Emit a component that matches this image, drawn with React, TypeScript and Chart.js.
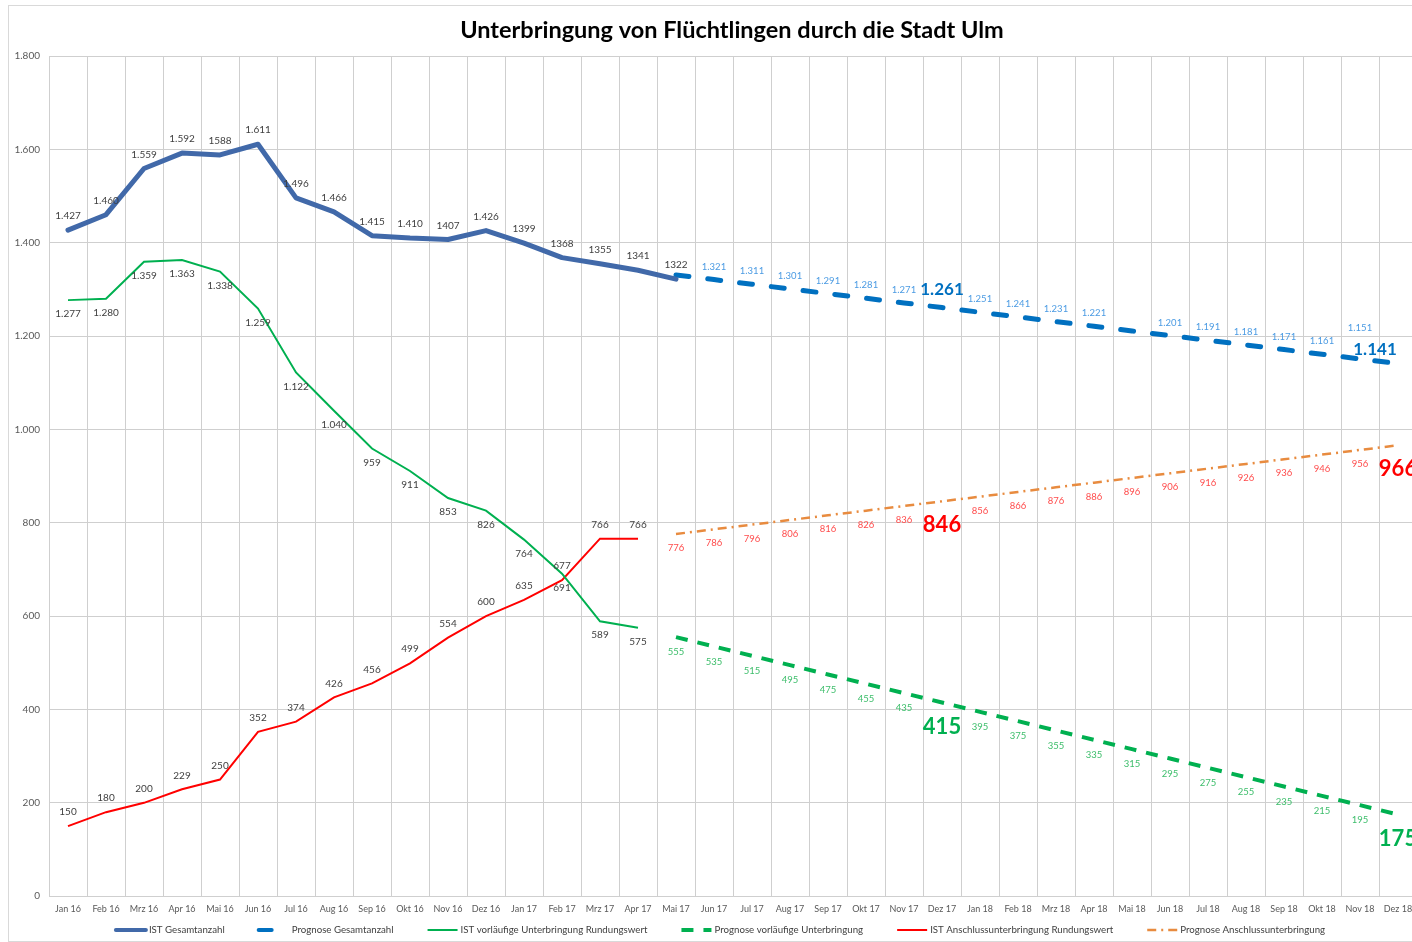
import React, { useEffect, useRef } from "react";
import { Chart, registerables } from "chart.js";

Chart.register(...registerables);

const FONT = "Lato, 'Noto Sans', sans-serif";

const TITLE = "Unterbringung von Flüchtlingen durch die Stadt Ulm";

const categories = [
  "Jan 16", "Feb 16", "Mrz 16", "Apr 16", "Mai 16", "Jun 16", "Jul 16", "Aug 16", "Sep 16", "Okt 16", "Nov 16", "Dez 16",
  "Jan 17", "Feb 17", "Mrz 17", "Apr 17", "Mai 17", "Jun 17", "Jul 17", "Aug 17", "Sep 17", "Okt 17", "Nov 17", "Dez 17",
  "Jan 18", "Feb 18", "Mrz 18", "Apr 18", "Mai 18", "Jun 18", "Jul 18", "Aug 18", "Sep 18", "Okt 18", "Nov 18", "Dez 18",
];

const N16 = (n: number) => Array(n).fill(null);

const istGesamt = [
  1427, 1460, 1559, 1592, 1588, 1611, 1496, 1466, 1415, 1410, 1407, 1426,
  1399, 1368, 1355, 1341, 1322, ...N16(19),
];
const prognoseGesamt = [
  ...N16(16),
  1331, 1321, 1311, 1301, 1291, 1281, 1271, 1261,
  1251, 1241, 1231, 1221, 1211, 1201, 1191, 1181, 1171, 1161, 1151, 1141,
];
const istVorlaeufig = [
  1277, 1280, 1359, 1363, 1338, 1259, 1122, 1040, 959, 911, 853, 826,
  764, 691, 589, 575, ...N16(20),
];
const prognoseVorlaeufig = [
  ...N16(16),
  555, 535, 515, 495, 475, 455, 435, 415,
  395, 375, 355, 335, 315, 295, 275, 255, 235, 215, 195, 175,
];
const istAnschluss = [
  150, 180, 200, 229, 250, 352, 374, 426, 456, 499, 554, 600,
  635, 677, 766, 766, ...N16(20),
];
const prognoseAnschluss = [
  ...N16(16),
  776, 786, 796, 806, 816, 826, 836, 846,
  856, 866, 876, 886, 896, 906, 916, 926, 936, 946, 956, 966,
];

const yTicks = [0, 200, 400, 600, 800, 1000, 1200, 1400, 1600, 1800];

const fmtDE = (v: number) =>
  v >= 1000 ? `${Math.floor(v / 1000)}.${String(v % 1000).padStart(3, "0")}` : String(v);

type Big = { index: number; color: string; size: number; dx: number; dy: number };
type Shift = { index: number; dy: number };
type LabelCfg = { color: string; size: number; dy: number; plain?: number[]; hide?: number[]; big?: Big[]; shift?: Shift[] };

const labelCfgs: LabelCfg[] = [
  { color: "#404040", size: 10, dy: -14, plain: [4, 10, 12, 13, 14, 15, 16] },
  {
    color: "#4b9be3", size: 9.5, dy: -13, hide: [16, 28],
    shift: [{ index: 34, dy: -31 }],
    big: [
      { index: 23, color: "#0070C0", size: 17, dx: 0, dy: -18 },
      { index: 35, color: "#0070C0", size: 17, dx: -23, dy: -14 },
    ],
  },
  { color: "#404040", size: 10, dy: 14 },
  {
    color: "#3dbe6b", size: 9.5, dy: 15,
    big: [
      { index: 23, color: "#00B050", size: 22, dx: 0, dy: 24 },
      { index: 35, color: "#00B050", size: 22, dx: 0, dy: 24 },
    ],
  },
  { color: "#404040", size: 10, dy: -14 },
  {
    color: "#ff4b4b", size: 9.5, dy: 14,
    big: [
      { index: 23, color: "#FF0000", size: 22, dx: 0, dy: 24 },
      { index: 35, color: "#FF0000", size: 22, dx: 0, dy: 24 },
    ],
  },
];

const valueLabelPlugin = {
  id: "valueLabels",
  afterDatasetsDraw(chart: any) {
    const ctx = chart.ctx;
    chart.data.datasets.forEach((ds: any, di: number) => {
      const cfg = labelCfgs[di];
      if (!cfg) return;
      const meta = chart.getDatasetMeta(di);
      meta.data.forEach((pt: any, i: number) => {
        const v = ds.data[i];
        if (v == null || (cfg.hide && cfg.hide.includes(i))) return;
        const big = cfg.big ? cfg.big.find((b) => b.index === i) : undefined;
        const sh = cfg.shift ? cfg.shift.find((s) => s.index === i) : undefined;
        const text = cfg.plain && cfg.plain.includes(i) ? String(v) : fmtDE(v);
        ctx.save();
        ctx.font = big ? `bold ${big.size}px ${FONT}` : `${cfg.size}px ${FONT}`;
        ctx.fillStyle = big ? big.color : cfg.color;
        ctx.textAlign = "center";
        ctx.textBaseline = "middle";
        const dy = big ? big.dy : sh ? sh.dy : cfg.dy;
        ctx.fillText(text, pt.x + (big ? big.dx : 0), pt.y + dy);
        ctx.restore();
      });
    });
  },
};

const legendPlugin = {
  id: "customLegend",
  afterDraw(chart: any) {
    const ctx = chart.ctx;
    const datasets = chart.data.datasets;
    const sample = 30;
    const gapText = 3;
    const gapItem = 34;
    ctx.save();
    ctx.font = `9.7px ${FONT}`;
    const widths = datasets.map((d: any) => sample + gapText + ctx.measureText(d.label).width);
    const total = widths.reduce((a: number, b: number) => a + b, 0) + gapItem * (datasets.length - 1);
    let x = chart.width / 2 - total / 2;
    const y = chart.height - 12;
    datasets.forEach((d: any, i: number) => {
      ctx.save();
      ctx.strokeStyle = d.borderColor;
      ctx.lineWidth = Math.min(d.borderWidth, 4);
      ctx.lineCap = d.borderCapStyle || "butt";
      ctx.setLineDash(d.borderDash || []);
      ctx.beginPath();
      ctx.moveTo(x, y);
      ctx.lineTo(x + sample, y);
      ctx.stroke();
      ctx.restore();
      ctx.fillStyle = "#404040";
      ctx.textAlign = "left";
      ctx.textBaseline = "middle";
      ctx.fillText(d.label, x + sample + gapText, y);
      x += widths[i] + gapItem;
    });
    ctx.restore();
  },
};

const framePlugin = {
  id: "frame",
  beforeDraw(chart: any) {
    const ctx = chart.ctx;
    ctx.save();
    ctx.fillStyle = "#ffffff";
    ctx.fillRect(0, 0, chart.width, chart.height);
    ctx.strokeStyle = "#d9d9d9";
    ctx.lineWidth = 1;
    ctx.strokeRect(0.5, 0.5, chart.width + 10, chart.height - 1);
    ctx.restore();
  },
  afterDraw(chart: any) {
    const ctx = chart.ctx;
    ctx.save();
    ctx.font = `bold 23.5px ${FONT}`;
    ctx.fillStyle = "#000000";
    ctx.textAlign = "center";
    ctx.textBaseline = "middle";
    ctx.fillText(TITLE, 724, 25);
    ctx.restore();
  },
};

export default function App() {
  const ref = useRef<HTMLCanvasElement | null>(null);

  useEffect(() => {
    if (!ref.current) return;
    const chart = new Chart(ref.current, {
      type: "line",
      data: {
        labels: categories,
        datasets: [
          {
            label: "IST Gesamtanzahl",
            data: istGesamt,
            borderColor: "#4169A9",
            borderWidth: 5,
            borderJoinStyle: "round",
            borderCapStyle: "round",
          },
          {
            label: "Prognose Gesamtanzahl",
            data: prognoseGesamt,
            borderColor: "#0070C0",
            borderWidth: 5,
            borderDash: [13, 19],
            borderCapStyle: "round",
          },
          {
            label: "IST vorläufige Unterbringung Rundungswert",
            data: istVorlaeufig,
            borderColor: "#00B050",
            borderWidth: 2,
          },
          {
            label: "Prognose vorläufige Unterbringung",
            data: prognoseVorlaeufig,
            borderColor: "#00B050",
            borderWidth: 4,
            borderDash: [12, 10],
          },
          {
            label: "IST Anschlussunterbringung Rundungswert",
            data: istAnschluss,
            borderColor: "#FF0000",
            borderWidth: 2,
          },
          {
            label: "Prognose Anschlussunterbringung",
            data: prognoseAnschluss,
            borderColor: "#E88B3F",
            borderWidth: 2.5,
            borderDash: [9, 5, 2, 5],
          },
        ] as any,
      },
      options: {
        responsive: false,
        animation: false,
        spanGaps: false,
        elements: { point: { radius: 0, hoverRadius: 0 }, line: { tension: 0 } },
        layout: { padding: { left: 0, right: 16, top: 51, bottom: 21 } },
        plugins: {
          legend: { display: false },
          tooltip: { enabled: false },
          title: { display: false },
        },
        scales: {
          x: {
            offset: true,
            grid: { offset: true, color: "#cfcfcf", drawTicks: false },
            border: { color: "#cfcfcf" },
            ticks: {
              color: "#595959",
              font: { family: FONT, size: 9 },
              padding: 7,
              maxRotation: 0,
              autoSkip: false,
            },
          },
          y: {
            min: 0,
            max: 1800,
            afterBuildTicks: (scale: any) => {
              scale.ticks = yTicks.map((v) => ({ value: v }));
            },
            afterFit: (scale: any) => {
              scale.width = 41;
            },
            grid: { color: "#cfcfcf", drawTicks: false },
            border: { color: "#cfcfcf" },
            ticks: {
              color: "#595959",
              font: { family: FONT, size: 10 },
              padding: 9,
              callback: (v: any) => fmtDE(Number(v)),
            },
          },
        },
      },
      plugins: [framePlugin, valueLabelPlugin, legendPlugin],
    });
    return () => chart.destroy();
  }, []);

  return (
    <div style={{ position: "fixed", left: 8, top: 5, width: 1404, height: 937, overflow: "hidden" }}>
      <canvas ref={ref} width={1425} height={937} style={{ display: "block" }} />
    </div>
  );
}
